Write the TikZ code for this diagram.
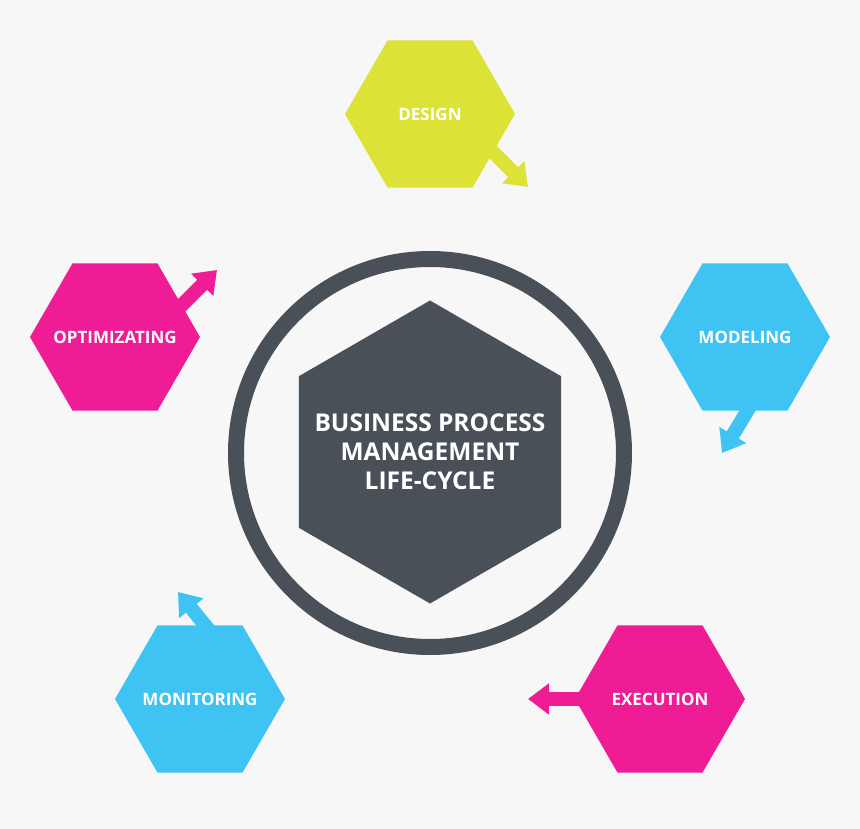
\documentclass[tikz,border=0pt]{standalone}
\usepackage{fontspec}
\setmainfont{Open Sans}
\usetikzlibrary{shapes.geometric,arrows.meta}
\pgfdeclarelayer{bg}
\pgfsetlayers{bg,main}
\definecolor{bgc}{HTML}{F7F7F7}
\definecolor{ylw}{HTML}{DCE336}
\definecolor{blu}{HTML}{3FC3F2}
\definecolor{pnk}{HTML}{EE1C95}
\definecolor{dgr}{HTML}{495058}
\tikzset{
  hexa/.style n args={2}{regular polygon, regular polygon sides=6, minimum size=170pt,
    inner sep=0pt, outer sep=0pt, fill=#1,
    label={[text=white, font=\bfseries\fontsize{17}{20}\selectfont]center:#2}},
  arr/.style={draw=#1, line width=14pt,
    -{Triangle[width=30pt,length=21pt]}},
}
\begin{document}
\begin{tikzpicture}[x=1pt,y=-1pt]
\begin{pgfonlayer}{bg}
\fill[bgc] (0,0) rectangle (860,829);
\end{pgfonlayer}
\useasboundingbox (0,0) rectangle (860,829);
\node[circle, draw=dgr, line width=16pt, minimum size=388pt, inner sep=0pt] (ring) at (430,453) {};
\node[regular polygon, regular polygon sides=6, shape border rotate=30, minimum size=303pt,
  inner sep=0pt, fill=dgr,
  label={[text=white, align=center, font=\bfseries\fontsize{24.5}{29}\selectfont]center:BUSINESS PROCESS\\MANAGEMENT\\LIFE-CYCLE}] (core) at (430,452) {};
\coordinate (dS) at (468,127);
\coordinate (dT) at (528,187);
\coordinate (mS) at (758,393);
\coordinate (mT) at (722,453);
\coordinate (eS) at (600,699);
\coordinate (eT) at (528,699);
\coordinate (nS) at (222,646);
\coordinate (nT) at (178,592);
\coordinate (oS) at (162,325);
\coordinate (oT) at (217,270);
\draw[arr=ylw] (dS) -- (dT);
\draw[arr=blu] (mS) -- (mT);
\draw[arr=pnk] (eS) -- (eT);
\draw[arr=blu] (nS) -- (nT);
\draw[arr=pnk] (oS) -- (oT);
\node[hexa={ylw}{DESIGN}] (design) at (430,114) {};
\node[hexa={blu}{MODELING}] (modeling) at (745,337) {};
\node[hexa={pnk}{EXECUTION}] (execution) at (660,699) {};
\node[hexa={blu}{MONITORING}] (monitoring) at (200,699) {};
\node[hexa={pnk}{OPTIMIZATING}] (optim) at (115,337) {};
\end{tikzpicture}
\end{document}
